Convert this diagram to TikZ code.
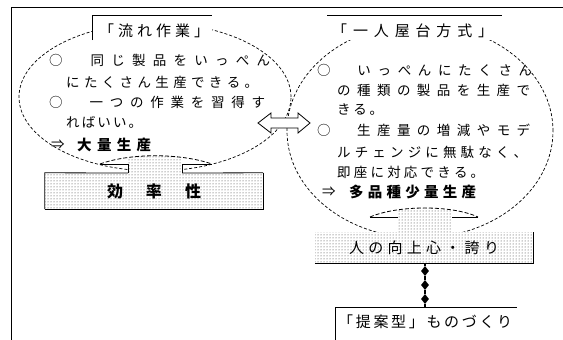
\documentclass[tikz,border=0pt]{standalone}
\usepackage{fontspec}
\setmainfont{Noto Sans CJK JP}
\usetikzlibrary{shapes.geometric,patterns}
\def\sprA#1{#1\sprB}
\def\sprB#1{\ifx#1\relax\else\hfil#1\expandafter\sprB\fi}
\newcommand\spr[2]{\makebox[#1][s]{\sprA#2\relax}}
\tikzset{
  ell/.style={ellipse, draw, dash pattern=on 3pt off 2pt, line width=0.7pt, fill=white, inner sep=0},
  txt/.style={anchor=west, inner sep=0, font=\fontsize{13.5}{13.5}\selectfont},
  ttl/.style={anchor=west, inner sep=0, font=\fontsize{15}{15}\selectfont},
  dotfill/.style={preaction={fill=white}, pattern=dots, pattern color=black!80},
  edge/.style={line width=0.8pt},
  shadowedge/.style={line width=1.3pt},
  dmd/.style={diamond, fill=black, inner sep=0, minimum width=8pt, minimum height=10pt}
}
\begin{document}
\begin{tikzpicture}[x=1pt,y=-1pt]
\useasboundingbox (0,0) rectangle (563,340);
% outer frame
\draw[line width=1pt] (11,340) -- (11,7) -- (563,7);
% ellipses
\node[ell, minimum width=272pt, minimum height=148pt] (le) at (155,97) {};
\node[ell, minimum width=266pt, minimum height=214pt] (re) at (420,131) {};
% double arrow
\draw[edge, fill=white] (258,123) -- (271,113) -- (271,118) -- (298,118) -- (298,113)
  -- (310,123) -- (298,133) -- (298,128) -- (271,128) -- (271,133) -- cycle;
% titles
\fill[white] (92,15) rectangle (212,40);
\draw[edge] (92,40) -- (92,15) -- (212,15);
\node[ttl] (t1) at (99,31) {\spr{110pt}{「流れ作業」}};
\fill[white] (327,15) rectangle (502,40);
\draw[edge] (327,15) -- (502,15);
\node[ttl] (t2) at (332,31) {\spr{161pt}{「一人屋台方式」}};
% left callout
\fill[white] (128,173) -- (128,164) -- (100,164) .. controls (130,153) and (180,153) .. (212,164) -- (182,164) -- (182,173) -- cycle;
\begin{scope}
\clip (128,140) rectangle (182,174);
\fill[dotfill] (100,164) .. controls (130,153) and (180,153) .. (212,164) -- (212,174) -- (100,174) -- cycle;
\end{scope}
\draw[edge, dash pattern=on 4pt off 2pt] (100,164) .. controls (130,153) and (180,153) .. (212,164);
\draw[edge] (100,164) -- (128,164) -- (128,173);
\draw[edge] (212,164) -- (182,164) -- (182,173);
% efficiency box
\node[dotfill, minimum width=218pt, minimum height=36pt, inner sep=0,
  font=\fontsize{16}{16}\selectfont\bfseries] (eff) at (154,191) {\spr{94pt}{効　率　性}};
\draw[edge] (128,173) -- (eff.north west) -- (eff.south west);
\draw[shadowedge] (eff.south west) -- (eff.south east) -- (eff.north east);
\draw[edge] (eff.north east) -- (182,173);
% right callout
\fill[white] (398,232) -- (398,217) -- (370,217) .. controls (398,205) and (452,205) .. (478,217) -- (452,217) -- (452,232) -- cycle;
\begin{scope}
\clip (398,190) rectangle (452,233);
\fill[dotfill] (370,217) .. controls (398,205) and (452,205) .. (478,217) -- (478,233) -- (370,233) -- cycle;
\end{scope}
\draw[edge, dash pattern=on 4pt off 2pt] (370,217) .. controls (398,205) and (452,205) .. (478,217);
\draw[edge] (370,217) -- (398,217);
\draw[edge] (478,217) -- (452,217);
% pride box
\node[dotfill, minimum width=218pt, minimum height=31pt, inner sep=0,
  font=\fontsize{15}{15}\selectfont] (hb) at (424,247.5) {\spr{150pt}{人の向上心・誇り}};
\draw[shadowedge] (hb.south west) -- (hb.south east) -- (hb.north east);
% left ellipse text
\node[txt] (l1) at (49,60) {\spr{221pt}{○　同じ製品をいっぺん}};
\node[txt] (l2) at (66,82) {\spr{192pt}{にたくさん生産できる。}};
\node[txt] (l3) at (49,102) {\spr{216pt}{○　一つの作業を習得す}};
\node[txt] (l4) at (66,122) {\spr{76pt}{ればいい。}};
\node[txt] (l5a) at (51,145) {⇒};
\node[txt, font=\fontsize{14.5}{14.5}\selectfont\bfseries] (l5) at (77,145) {\spr{74pt}{大量生産}};
% right ellipse text
\node[txt] (r1) at (317,70) {\spr{215pt}{○　いっぺんにたくさん}};
\node[txt] (r2) at (337,90) {\spr{193pt}{の種類の製品を生産で}};
\node[txt] (r3) at (337,110) {\spr{46pt}{きる。}};
\node[txt] (r4) at (317,130) {\spr{213pt}{○　生産量の増減やモデ}};
\node[txt] (r5) at (337,152) {\spr{190pt}{ルチェンジに無駄なく、}};
\node[txt] (r6) at (337,172) {\spr{147pt}{即座に対応できる。}};
\node[txt] (r7a) at (322,192) {⇒};
\node[txt, font=\fontsize{14.5}{14.5}\selectfont\bfseries] (r7) at (349,192) {\spr{127pt}{多品種少量生産}};
% connector with diamonds
\coordinate (bt) at (425,307);
\node[dmd] (d1) at (425,271) {};
\node[dmd] (d2) at (425,285) {};
\node[dmd] (d3) at (425,299) {};
\draw[line width=1.4pt] (hb.south -| bt) -- (d1) -- (d2) -- (d3) -- (bt);
% bottom title
\draw[edge] (335,340) -- (335,307) -- (517,307);
\node[ttl] (bot) at (338,322) {\spr{174pt}{「提案型」ものづくり}};
\end{tikzpicture}
\end{document}
